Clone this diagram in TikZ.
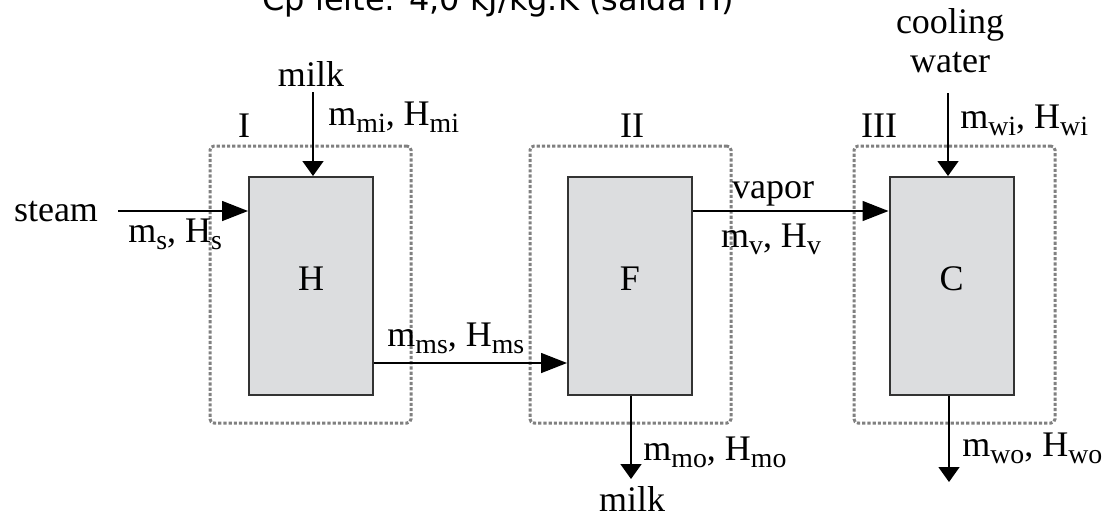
\documentclass[tikz,border=0pt]{standalone}
\usepackage{fontspec}
\setmainfont{Liberation Serif}
\newfontfamily\notefont{DejaVu Sans}
\usetikzlibrary{arrows.meta}
\definecolor{boxgrey}{RGB}{220,221,223}
\definecolor{dotgrey}{RGB}{128,128,128}
\newcommand{\lo}[1]{\raisebox{-3.8pt}{\fontsize{13.9}{14}\selectfont #1}}
\tikzset{
    unit/.style={draw=black!80, line width=1pt, fill=boxgrey, minimum width=62pt,
        minimum height=109pt, inner sep=0pt, text height=12.5pt, text depth=8pt},
    region/.style={draw=dotgrey, line width=1.5pt, dash pattern=on 1.6pt off 1pt,
        rounded corners=2pt, minimum width=100.5pt, minimum height=138.5pt, inner sep=0pt},
    flowh/.style={-{Triangle[length=13pt,width=10pt]}, line width=0.75pt},
    flowv/.style={-{Triangle[length=7.5pt,width=10.5pt]}, line width=0.75pt},
    lbl/.style={anchor=base, inner sep=0pt},
    lblw/.style={anchor=base west, inner sep=0pt}
}
\begin{document}
\begin{tikzpicture}[x=0.5pt,y=-0.5pt,font=\fontsize{18}{19.5}\selectfont]
    \useasboundingbox (0,0) rectangle (1104,516);
    \clip (0,0) rectangle (1104,516);
    \node[lbl,font=\notefont\fontsize{16}{18}\selectfont] (note) at (498,10) {Cp leite: 4,0 kJ/kg.K (saída H)};
    \node[region] (rI) at (310.5,284.5) {};
    \node[region] (rII) at (630.5,284.5) {};
    \node[region] (rIII) at (954.5,284.5) {};
    \node[lbl] (tI) at (244,137) {I};
    \node[lbl] (tII) at (632,137) {II};
    \node[lbl] (tIII) at (879,137) {III};
    \node[unit] (H) at (311,286) {H};
    \node[unit] (F) at (630,286) {F};
    \node[unit] (C) at (951.5,286) {C};
    \node[lbl] (steam) at (56,221) {steam};
    \coordinate (steamin) at (118,211);
    \draw[flowh] (steamin) -- (steamin -| H.west);
    \node[lblw] (ms) at (128,242) {m\lo{s}, H\lo{s}};
    \node[lbl] (milkin) at (311,86) {milk};
    \coordinate (mi) at (313,92);
    \draw[flowv] (mi) -- (mi |- H.north);
    \node[lblw] (mmi) at (328,125) {m\lo{mi}, H\lo{mi}};
    \draw[flowh] (H.east |- 0,363) -- (F.west |- 0,363);
    \node[lblw] (mms) at (387,346) {m\lo{ms}, H\lo{ms}};
    \draw[flowh] (F.east |- 0,211) -- (C.west |- 0,211);
    \node[lbl] (vapor) at (773,198) {vapor};
    \node[lbl] (mv) at (771,247) {m\lo{v}, H\lo{v}};
    \node[lbl,align=center] (cw) at (950,72) {cooling\\water};
    \coordinate (wi) at (948,93);
    \draw[flowv] (wi) -- (wi |- C.north);
    \node[lblw] (mwi) at (960,128) {m\lo{wi}, H\lo{wi}};
    \coordinate (mo) at (631,479);
    \draw[flowv] (F.south -| mo) -- (mo);
    \node[lblw] (mmo) at (643,460) {m\lo{mo}, H\lo{mo}};
    \node[lbl] (milkout) at (632,511) {milk};
    \coordinate (wo) at (949,482);
    \draw[flowv] (C.south -| wo) -- (wo);
    \node[lblw] (mwo) at (962,456) {m\lo{wo}, H\lo{wo}};
\end{tikzpicture}
\end{document}
